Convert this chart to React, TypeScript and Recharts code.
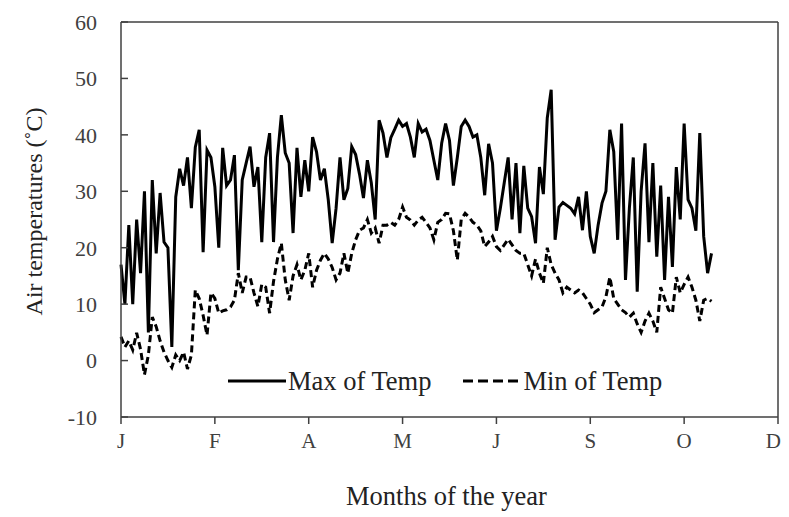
import React from "react";
import {
  LineChart,
  Line,
  XAxis,
  YAxis,
  ReferenceLine,
  Legend,
} from "recharts";

// month labels on the x axis (one tick every 24 readings)
const MONTHS = ["J", "F", "A", "M", "J", "S", "O", "D"];
const X_TICKS = [0, 24, 48, 72, 96, 120, 144, 168];
const Y_TICKS = [-10, 0, 10, 20, 30, 40, 50, 60];

// one value per reading
const maxTemp = [
  17, 10, 24, 10, 25, 15.5, 30, 5, 32, 19, 29.7, 21, 20, 2.4, 29, 34, 31, 36, 27, 37.8,
  40.9, 19.2, 37.3, 36, 30.8, 20, 37.7, 31, 32, 36.4, 16, 32, 35, 37.9, 30.8, 34.3, 21, 36, 40.3, 21,
  36, 43.5, 36.8, 35, 22.6, 37.7, 29, 35.5, 30, 39.6, 37, 32, 34, 28.5, 20.8, 27, 36, 28.5, 30.5, 37.9,
  36.5, 33, 28.8, 35.5, 31.5, 25, 42.6, 40.3, 36, 39.5, 41, 42.6, 41.5, 42, 39.6, 36, 42, 40.5, 41, 39,
  35.5, 32, 38.5, 42, 39, 31, 36, 41.5, 42.6, 41.5, 39.6, 40, 36, 29.3, 38.4, 35, 23, 27, 31.5, 36,
  25, 35, 22.6, 34.5, 27, 25.5, 20.8, 34.3, 29.5, 43, 48, 21.4, 27.2, 28, 27.5, 27, 26, 29, 23.1, 30,
  22, 19, 24, 27.9, 30, 40.9, 37, 21.4, 42, 14.3, 27, 36, 12.2, 30, 38.5, 21, 35, 18.4, 31, 14.3,
  29, 16.6, 34.3, 25, 42, 28.5, 27, 23, 40.3, 22, 15.5, 19,
];

const minTemp = [
  4.2, 2.4, 3.5, 1.9, 4.9, 2, -2.5, 1, 7.7, 6, 3.5, 1.5, 0, -1.2, 1, 0, 1.5, -1.5, 1, 12.5,
  11, 8, 4.5, 12, 11, 8.4, 8.8, 9, 9.5, 10.7, 15.5, 12, 14.8, 14.8, 12, 9.6, 13.5, 13, 8.4, 14,
  18, 20.8, 14.3, 10.7, 15, 17, 14.3, 16, 19, 13, 16, 17.8, 19, 18, 16.5, 14.3, 15.5, 19, 15.5, 19,
  21.4, 23.1, 23.5, 25, 22.6, 23.5, 20.8, 24, 24, 24.5, 24, 25, 27.2, 25.4, 24.9, 24, 24.9, 25.4, 24.5, 23.5,
  21.4, 24.5, 25, 26.1, 26, 23, 17.8, 25, 26.1, 25.4, 24.5, 24, 23, 20.2, 21, 22, 20.2, 19.5, 20.5, 21.5,
  20.5, 19.5, 19, 19, 17, 15, 18, 15.5, 13.7, 20, 17, 15.5, 14.3, 12, 13, 12.5, 12, 12.5, 12, 11,
  10, 8.5, 9, 9.5, 11.3, 14.8, 11, 10, 9, 8.5, 7.7, 8.4, 6.5, 5, 7, 8.4, 7, 5, 13, 11,
  9, 8.4, 14.8, 12, 13.5, 14.8, 13, 10.7, 7, 10.7, 11, 10.5,
];

const data = maxTemp.map((v, i) => ({ i, max: v, min: minTemp[i] }));

const FONT = "'Liberation Serif', 'Times New Roman', serif";
const AXIS = "#404040";

function LegendBox() {
  const item = (dash: string | undefined, text: string, gap: number) => (
    <div style={{ display: "flex", alignItems: "center", marginRight: gap }}>
      <svg width={60} height={10}>
        <line x1={0} y1={5} x2={58} y2={5} stroke="#000" strokeWidth={3} strokeDasharray={dash} />
      </svg>
      <span style={{ fontFamily: FONT, fontSize: 26.5, color: "#222", marginLeft: 0 }}>{text}</span>
    </div>
  );
  return (
    <div style={{ display: "flex", alignItems: "center", lineHeight: "30px" }}>
      {item(undefined, "Max of Temp", 32)}
      {item("10 5", "Min of Temp", 0)}
    </div>
  );
}

export default function App() {
  return (
    <LineChart
      width={773}
      height={509}
      data={data}
      margin={{ top: 14, right: 3, left: 0, bottom: 0 }}
    >
      <XAxis
        dataKey="i"
        type="number"
        domain={[0, 168]}
        ticks={X_TICKS}
        tickFormatter={(v: number) => MONTHS[X_TICKS.indexOf(v)]}
        height={100}
        tickSize={7}
        tickMargin={9}
        stroke={AXIS}
        strokeWidth={1.5}
        tick={{ fill: AXIS, fontSize: 21, fontFamily: FONT }}
        label={{
          content: ({ viewBox }: any) => (
            <text
              x={viewBox.x + viewBox.width / 2 - 3}
              y={viewBox.y + 88}
              textAnchor="middle"
              fontFamily={FONT}
              fontSize={26.5}
              fill="#222"
            >
              Months of the year
            </text>
          ),
        }}
      />
      <YAxis
        type="number"
        domain={[-10, 60]}
        ticks={Y_TICKS}
        width={113}
        tickSize={-7}
        tickMargin={31}
        stroke={AXIS}
        strokeWidth={1.5}
        tick={{ fill: AXIS, fontSize: 22, fontFamily: FONT }}
        label={{
          content: ({ viewBox }: any) => {
            const cx = viewBox.x + 26;
            const cy = viewBox.y + viewBox.height / 2 - 8;
            return (
              <text
                x={cx}
                y={cy}
                transform={`rotate(-90 ${cx} ${cy})`}
                textAnchor="middle"
                dominantBaseline="central"
                fontFamily={FONT}
                fontSize={24}
                fill="#222"
              >
                Air temperatures (˚C)
              </text>
            );
          },
        }}
      />
      <ReferenceLine y={60} stroke={AXIS} strokeWidth={1.5} />
      <ReferenceLine x={168} stroke={AXIS} strokeWidth={1.5} />
      <Line
        dataKey="max"
        name="Max of Temp"
        stroke="#000"
        strokeWidth={3}
        dot={false}
        isAnimationActive={false}
      />
      <Line
        dataKey="min"
        name="Min of Temp"
        stroke="#000"
        strokeWidth={3}
        strokeDasharray="7 4"
        dot={false}
        isAnimationActive={false}
      />
      <Legend
        verticalAlign="middle"
        align="center"
        content={() => <LegendBox />}
        wrapperStyle={{ top: 358, left: 220, width: "auto" }}
      />
    </LineChart>
  );
}
